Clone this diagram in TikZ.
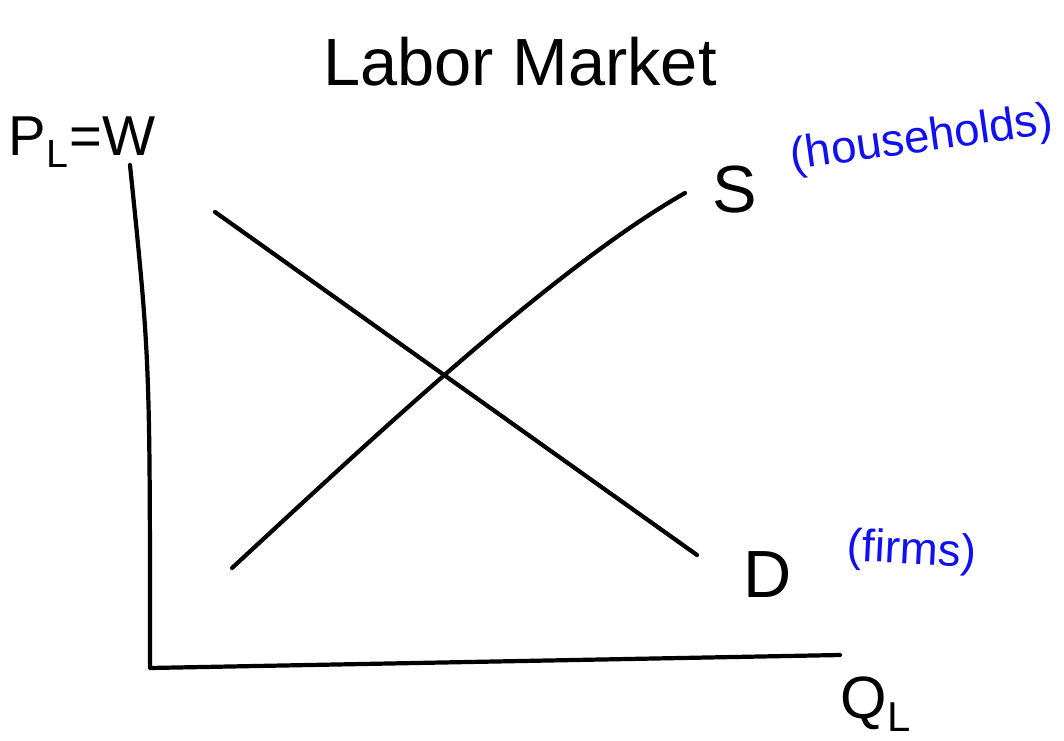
\documentclass[tikz,border=0pt]{standalone}
\usepackage{fontspec}
\setmainfont{Liberation Sans}
\usetikzlibrary{positioning,calc}
\definecolor{PenBlue}{HTML}{1010F0}

\begin{document}
\begin{tikzpicture}[x=0.02cm,y=-0.02cm, every node/.style={inner sep=0pt},
  pen/.style={line width=2.4pt,line cap=round,line join=round},
  bigtxt/.style={font=\fontsize{38}{42}\selectfont},
  notetxt/.style={font=\fontsize{26}{30}\selectfont,text=PenBlue}]
  \useasboundingbox (0,0) rectangle (1064,740);
  % axes
  \coordinate (top) at (130,165);
  \coordinate (origin) at (150,668);
  \coordinate (right) at (840,655);
  \draw[pen] (top) .. controls (150,360) .. (origin) -- (right);
  \node[bigtxt] (title) at (520,62) {Labor Market};
  \node[bigtxt,font=\fontsize{32}{36}\selectfont] (price) at (82,142) {P$_{\mathrm L}$=W};
  \node[bigtxt,font=\fontsize{34}{38}\selectfont] (qty) at (876,704) {Q$_{\mathrm L}$};
  % demand and supply
  \coordinate (d0) at (215,212);
  \coordinate (d1) at (697,555);
  \coordinate (s0) at (232,568);
  \coordinate (s1) at (685,193);
  \draw[pen] (d0) -- (d1);
  \draw[pen] (s0) .. controls (360,450) and (550,270) .. (s1);
  \node[bigtxt] (slab) at (735,190) {S};
  \node[bigtxt] (dlab) at (768,575) {D};
  \node[notetxt,rotate=8] (hh) at (922,140) {(households)};
  \node[notetxt,rotate=-3] (firms) at (912,552) {(firms)};
\end{tikzpicture}
\end{document}
